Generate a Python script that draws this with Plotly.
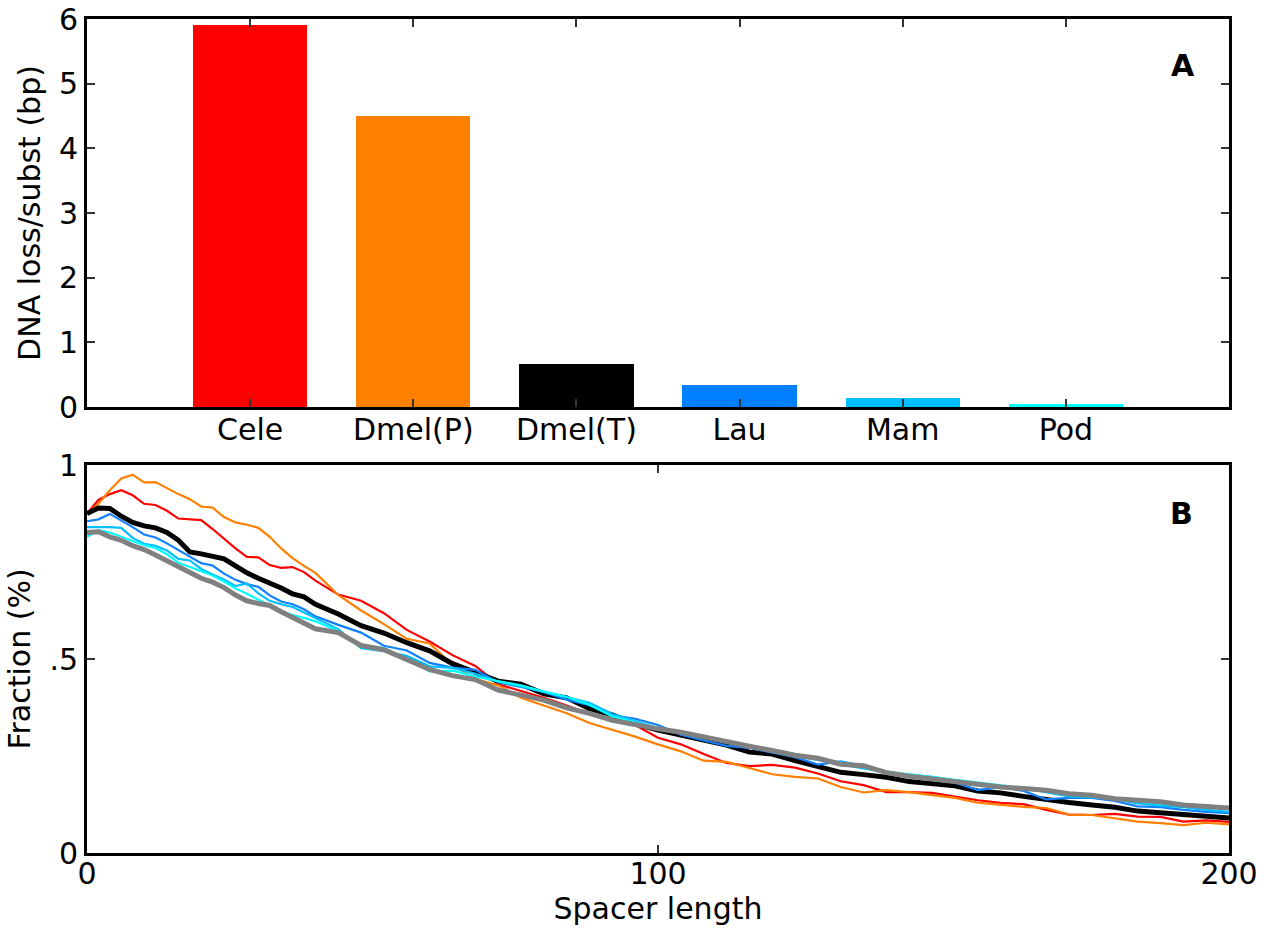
import plotly.graph_objects as go

# ---- Panel A data ----
groups = ["Cele", "Dmel(P)", "Dmel(T)", "Lau", "Mam", "Pod"]
loss_per_subst = [5.9, 4.5, 0.66, 0.34, 0.14, 0.05]
bar_colors = ["#FF0000", "#FF8000", "#000000", "#0080FF", "#00BFFF", "#00FFFF"]

# ---- Panel B data ----
spacer = [0, 2, 4, 6, 8, 10, 12, 14, 16, 18, 20, 22, 24, 26, 28, 30, 32, 34, 36, 38, 40,
          44, 48, 52, 56, 60, 64, 68, 72, 76, 80, 84, 88, 92, 96, 100, 104, 108, 112, 116,
          120, 124, 128, 132, 136, 140, 144, 148, 152, 156, 160, 164, 168, 172, 176, 180,
          184, 188, 192, 196, 200]

cele = [0.875, 0.91, 0.925, 0.935, 0.922, 0.90, 0.897, 0.882, 0.862, 0.86, 0.858, 0.835, 0.81,
        0.785, 0.763, 0.762, 0.742, 0.735, 0.737, 0.724, 0.702, 0.666, 0.65, 0.618, 0.575,
        0.545, 0.51, 0.482, 0.435, 0.418, 0.40, 0.38, 0.358, 0.345, 0.33, 0.297, 0.28, 0.255,
        0.232, 0.224, 0.227, 0.22, 0.205, 0.185, 0.175, 0.157, 0.157, 0.155, 0.145, 0.136,
        0.129, 0.126, 0.111, 0.099, 0.098, 0.101, 0.094, 0.093, 0.081, 0.084, 0.08]
dmel_p = [0.875, 0.90, 0.935, 0.965, 0.975, 0.955, 0.956, 0.94, 0.925, 0.912, 0.893, 0.89,
          0.866, 0.852, 0.846, 0.838, 0.815, 0.785, 0.76, 0.74, 0.722, 0.665, 0.625, 0.59,
          0.552, 0.54, 0.485, 0.448, 0.432, 0.40, 0.38, 0.36, 0.335, 0.318, 0.30, 0.28, 0.262,
          0.238, 0.235, 0.219, 0.203, 0.196, 0.192, 0.17, 0.156, 0.162, 0.157, 0.149, 0.142,
          0.13, 0.124, 0.119, 0.116, 0.099, 0.098, 0.09, 0.081, 0.077, 0.072, 0.078, 0.074]
dmel_t = [0.875, 0.889, 0.888, 0.868, 0.852, 0.843, 0.838, 0.826, 0.806, 0.776, 0.771, 0.763,
          0.758, 0.74, 0.722, 0.708, 0.696, 0.683, 0.668, 0.66, 0.641, 0.616, 0.586, 0.567,
          0.542, 0.521, 0.488, 0.464, 0.443, 0.435, 0.41, 0.40, 0.372, 0.356, 0.333, 0.317,
          0.305, 0.29, 0.278, 0.26, 0.255, 0.238, 0.222, 0.208, 0.202, 0.195, 0.184, 0.18,
          0.173, 0.16, 0.155, 0.146, 0.137, 0.13, 0.124, 0.118, 0.108, 0.103, 0.1, 0.093, 0.09]
lau = [0.855, 0.86, 0.874, 0.858, 0.84, 0.821, 0.813, 0.798, 0.781, 0.763, 0.747, 0.741, 0.72,
       0.704, 0.693, 0.686, 0.664, 0.648, 0.641, 0.628, 0.61, 0.588, 0.568, 0.534, 0.522,
       0.49, 0.478, 0.472, 0.44, 0.428, 0.415, 0.395, 0.381, 0.355, 0.346, 0.33, 0.305, 0.29,
       0.276, 0.271, 0.259, 0.247, 0.228, 0.236, 0.224, 0.209, 0.198, 0.195, 0.182, 0.162,
       0.17, 0.16, 0.138, 0.142, 0.142, 0.134, 0.12, 0.118, 0.111, 0.106, 0.103]
mam = [0.84, 0.84, 0.84, 0.838, 0.812, 0.797, 0.792, 0.78, 0.758, 0.754, 0.732, 0.718, 0.705,
       0.688, 0.695, 0.669, 0.65, 0.641, 0.634, 0.62, 0.605, 0.577, 0.528, 0.52, 0.508, 0.481,
       0.477, 0.462, 0.442, 0.43, 0.416, 0.402, 0.387, 0.358, 0.34, 0.322, 0.308, 0.299, 0.288,
       0.275, 0.26, 0.25, 0.24, 0.228, 0.218, 0.208, 0.202, 0.196, 0.187, 0.18, 0.172, 0.167,
       0.157, 0.146, 0.143, 0.139, 0.128, 0.122, 0.118, 0.111, 0.106]
pod = [0.815, 0.832, 0.826, 0.815, 0.802, 0.793, 0.786, 0.77, 0.748, 0.737, 0.725, 0.715,
       0.699, 0.682, 0.668, 0.653, 0.638, 0.623, 0.613, 0.606, 0.597, 0.572, 0.535, 0.529, 0.5,
       0.468, 0.47, 0.455, 0.443, 0.432, 0.416, 0.402, 0.382, 0.352, 0.337, 0.322, 0.312, 0.3,
       0.289, 0.277, 0.265, 0.255, 0.245, 0.234, 0.222, 0.21, 0.203, 0.196, 0.188, 0.181,
       0.175, 0.168, 0.16, 0.15, 0.147, 0.142, 0.132, 0.127, 0.122, 0.117, 0.113]
all_sp = [0.826, 0.828, 0.815, 0.806, 0.792, 0.782, 0.768, 0.753, 0.737, 0.722, 0.708, 0.698,
          0.684, 0.665, 0.65, 0.643, 0.638, 0.622, 0.608, 0.594, 0.578, 0.568, 0.535, 0.524,
          0.497, 0.473, 0.457, 0.447, 0.42, 0.408, 0.394, 0.374, 0.36, 0.342, 0.33, 0.32, 0.311,
          0.298, 0.288, 0.275, 0.264, 0.252, 0.244, 0.229, 0.225, 0.207, 0.198, 0.191, 0.184,
          0.176, 0.17, 0.166, 0.162, 0.153, 0.149, 0.14, 0.137, 0.132, 0.124, 0.119, 0.116]

FONT = "DejaVu Sans"
FS = 30

fig = go.Figure()

fig.add_trace(go.Bar(x=list(range(len(groups))), y=loss_per_subst, width=0.7,
                     marker=dict(color=bar_colors, line=dict(width=0)),
                     showlegend=False, xaxis="x", yaxis="y"))

series = [
    (cele, "#FF0000", 2.2),
    (dmel_p, "#FF8000", 2.2),
    (dmel_t, "#000000", 5),
    (lau, "#1080FF", 2.2),
    (mam, "#00BFFF", 2.2),
    (pod, "#00FFFF", 2.2),
    (all_sp, "#808080", 5),
]
for ys, col, w in series:
    fig.add_trace(go.Scatter(x=spacer, y=ys, mode="lines",
                             line=dict(color=col, width=w),
                             showlegend=False, xaxis="x2", yaxis="y2"))

axis_common = dict(showline=True, linewidth=3, linecolor="black", mirror="ticks",
                   ticks="inside", ticklen=8, tickwidth=1.5, tickcolor="#333",
                   showgrid=False, zeroline=False, automargin=False,
                   tickfont=dict(family=FONT, size=FS, color="black"))
tfont = dict(family=FONT, size=FS, color="black")

top_dom = [(853 - 407) / 834, 1.0]
bot_dom = [0.0, (853 - 465) / 834]

fig.update_layout(
    xaxis=dict(**axis_common, domain=[0, 1], anchor="y", range=[-1, 6],
               tickvals=list(range(len(groups))), ticktext=groups,
               ticklabelstandoff=-6),
    yaxis=dict(**axis_common, domain=top_dom, anchor="x", range=[0, 6],
               tickvals=[0, 1, 2, 3, 4, 5, 6],
               title=dict(text="DNA loss/subst (bp)", font=tfont, standoff=10)),
    xaxis2=dict(**axis_common, domain=[0, 1], anchor="y2", range=[0, 200],
                tickvals=[0, 100, 200], ticklabelstandoff=-8,
                title=dict(text="Spacer length", font=tfont, standoff=8)),
    yaxis2=dict(**axis_common, domain=bot_dom, anchor="x2", range=[0, 1],
                tickvals=[0, 0.5, 1], ticktext=["0", ".5", "1"],
                title=dict(text="Fraction (%)", font=tfont, standoff=10)),
)

fig.add_annotation(text="<b>A</b>", xref="x domain", yref="y domain", x=0.96, y=0.879,
                   xanchor="center", yanchor="middle", showarrow=False, font=tfont)
fig.add_annotation(text="<b>B</b>", xref="x2 domain", yref="y2 domain", x=0.958, y=0.876,
                   xanchor="center", yanchor="middle", showarrow=False, font=tfont)

fig.update_layout(width=1266, height=928, margin=dict(l=87, r=37, t=19, b=75),
                  paper_bgcolor="white", plot_bgcolor="white", bargap=0,
                  font=dict(family=FONT, size=FS, color="black"))

fig.write_html("out.html")
